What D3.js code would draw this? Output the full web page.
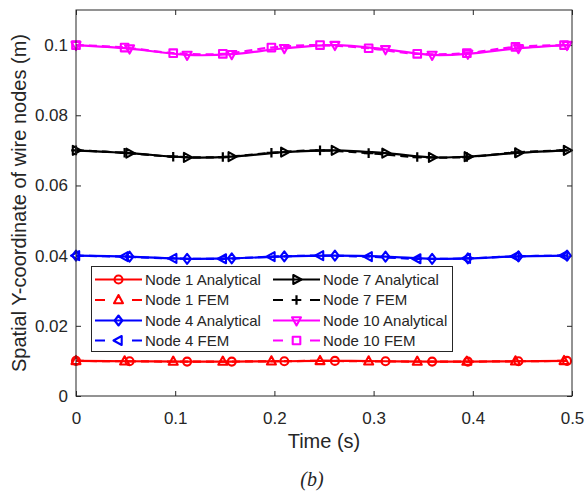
<!DOCTYPE html>
<html>
<head>
<meta charset="utf-8">
<script src="https://cdn.jsdelivr.net/npm/d3@7"></script>
<style>
  html, body { margin: 0; padding: 0; background: #fff; }
  svg { display: block; }
  text { font-family: "Liberation Sans", Arial, Helvetica, sans-serif; fill: #262626; }
</style>
</head>
<body>
<svg id="chart" width="586" height="498"></svg>
<script>
// Sample times (s) where the markers sit
const tAna = [0, 0.054, 0.112, 0.157, 0.210, 0.261, 0.312, 0.359, 0.395, 0.446, 0.495];
const tFem = [0, 0.049, 0.098, 0.148, 0.197, 0.246, 0.295, 0.344, 0.394, 0.443, 0.492];

// Spatial Y-coordinate (m) of each node
const node1Ana  = [0.0100, 0.0099, 0.0098, 0.0098, 0.0099, 0.0100, 0.0099, 0.0098, 0.0098, 0.0099, 0.0100];
const node1Fem  = [0.0100, 0.0099, 0.0098, 0.0098, 0.0099, 0.0100, 0.0099, 0.0098, 0.0098, 0.0099, 0.0100];
const node4Ana  = [0.0400, 0.0397, 0.0391, 0.0392, 0.0398, 0.0400, 0.0397, 0.0391, 0.0392, 0.0398, 0.0400];
const node4Fem  = [0.0400, 0.0397, 0.0392, 0.0391, 0.0397, 0.0400, 0.0397, 0.0391, 0.0392, 0.0398, 0.0400];
const node7Ana  = [0.0700, 0.0692, 0.0680, 0.0682, 0.0695, 0.0700, 0.0692, 0.0680, 0.0682, 0.0693, 0.0700];
const node7Fem  = [0.0700, 0.0693, 0.0682, 0.0681, 0.0693, 0.0700, 0.0692, 0.0681, 0.0681, 0.0694, 0.0700];
const node10Ana = [0.1000, 0.0990, 0.0972, 0.0974, 0.0991, 0.1000, 0.0988, 0.0972, 0.0975, 0.0991, 0.1000];
const node10Fem = [0.1000, 0.0993, 0.0977, 0.0975, 0.0993, 0.1000, 0.0991, 0.0975, 0.0977, 0.0995, 0.1000];

const xTicks = [0, 0.1, 0.2, 0.3, 0.4, 0.5];
const xTickLabels = ["0", "0.1", "0.2", "0.3", "0.4", "0.5"];
const yTicks = [0, 0.02, 0.04, 0.06, 0.08, 0.1];
const yTickLabels = ["0", "0.02", "0.04", "0.06", "0.08", "0.1"];

const seriesNames = ["Node 1 Analytical", "Node 1 FEM", "Node 4 Analytical", "Node 4 FEM",
                     "Node 7 Analytical", "Node 7 FEM", "Node 10 Analytical", "Node 10 FEM"];

// Styling per series
const series = [
  { name: seriesNames[0], t: tAna, v: node1Ana,  color: "#ff0000", dashed: false, marker: "circle" },
  { name: seriesNames[1], t: tFem, v: node1Fem,  color: "#ff0000", dashed: true,  marker: "triUp" },
  { name: seriesNames[2], t: tAna, v: node4Ana,  color: "#0000ff", dashed: false, marker: "diamond" },
  { name: seriesNames[3], t: tFem, v: node4Fem,  color: "#0000ff", dashed: true,  marker: "triLeft" },
  { name: seriesNames[4], t: tAna, v: node7Ana,  color: "#000000", dashed: false, marker: "triRight" },
  { name: seriesNames[5], t: tFem, v: node7Fem,  color: "#000000", dashed: true,  marker: "plus" },
  { name: seriesNames[6], t: tAna, v: node10Ana, color: "#ff00ff", dashed: false, marker: "triDown" },
  { name: seriesNames[7], t: tFem, v: node10Fem, color: "#ff00ff", dashed: true,  marker: "square" }
];

const svg = d3.select("#chart");
svg.append("rect").attr("width", 586).attr("height", 498).attr("fill", "#fff");

const plot = { left: 76, right: 572, top: 10, bottom: 396 };
const x = d3.scaleLinear().domain([0, 0.5]).range([plot.left, plot.right]);
const y = d3.scaleLinear().domain([0, 0.11]).range([plot.bottom, plot.top]);

const axisColor = "#262626";

// Axes with inward ticks on all four sides
function styleAxis(g) {
  g.select(".domain").remove();
  g.selectAll(".tick line").attr("stroke", axisColor).attr("stroke-width", 1);
  g.selectAll(".tick text").attr("fill", axisColor).style("font-size", "17px")
    .style("font-family", '"Liberation Sans", Arial, sans-serif');
}
svg.append("g").attr("transform", `translate(0,${plot.bottom})`)
  .call(d3.axisBottom(x).tickValues(xTicks).tickFormat((d, i) => xTickLabels[i]).tickSize(-5).tickPadding(16))
  .call(styleAxis);
svg.append("g").attr("transform", `translate(0,${plot.top})`)
  .call(d3.axisTop(x).tickValues(xTicks).tickFormat("").tickSize(-5))
  .call(styleAxis);
svg.append("g").attr("transform", `translate(${plot.left},0)`)
  .call(d3.axisLeft(y).tickValues(yTicks).tickFormat((d, i) => yTickLabels[i]).tickSize(-5).tickPadding(8))
  .call(styleAxis);
svg.append("g").attr("transform", `translate(${plot.right},0)`)
  .call(d3.axisRight(y).tickValues(yTicks).tickFormat("").tickSize(-5))
  .call(styleAxis);

// Lines
const clipId = "plot-clip";
svg.append("clipPath").attr("id", clipId).append("rect")
  .attr("x", plot.left).attr("y", plot.top)
  .attr("width", plot.right - plot.left).attr("height", plot.bottom - plot.top);

const line = d3.line().x(d => x(d[0])).y(d => y(d[1])).curve(d3.curveCatmullRom.alpha(0.5));

const lineLayer = svg.append("g").attr("clip-path", `url(#${clipId})`);
series.forEach(s => {
  const pts = s.t.map((t, i) => [t, s.v[i]]);
  lineLayer.append("path")
    .attr("d", line(pts))
    .attr("fill", "none")
    .attr("stroke", s.color)
    .attr("stroke-width", 2.2)
    .attr("stroke-dasharray", s.dashed ? "8,5" : null)
    .attr("stroke-linejoin", "round");
});

// Marker shapes
function markerPath(type) {
  switch (type) {
    case "circle":   return d3.symbol().type(d3.symbolCircle).size(50)();
    case "triUp":    return "M0,-5L4.5,3.2L-4.5,3.2Z";
    case "triDown":  return "M0,5L4.5,-3.2L-4.5,-3.2Z";
    case "triLeft":  return "M-5,0L3.2,-4.5L3.2,4.5Z";
    case "triRight": return "M5,0L-3.2,-4.5L-3.2,4.5Z";
    case "diamond":  return "M0,-5L3.8,0L0,5L-3.8,0Z";
    case "square":   return "M-3.8,-3.8H3.8V3.8H-3.8Z";
    case "plus":     return "M-4.8,0H4.8M0,-4.8V4.8";
  }
}
function drawMarker(g, type, color, cx, cy) {
  g.append("path")
    .attr("d", markerPath(type))
    .attr("transform", `translate(${cx},${cy})`)
    .attr("fill", "none")
    .attr("stroke", color)
    .attr("stroke-width", type === "plus" ? 2.2 : 2.1)
    .attr("stroke-linejoin", "round");
}

const markerLayer = svg.append("g");
series.forEach(s => {
  s.t.forEach((t, i) => drawMarker(markerLayer, s.marker, s.color, x(t), y(s.v[i])));
});

// Plot box
svg.append("rect")
  .attr("x", plot.left).attr("y", plot.top)
  .attr("width", plot.right - plot.left).attr("height", plot.bottom - plot.top)
  .attr("fill", "none").attr("stroke", axisColor).attr("stroke-width", 1);

// Legend (two columns, column-major order)
const legend = svg.append("g");
legend.append("rect")
  .attr("x", 91.5).attr("y", 266.5).attr("width", 361).attr("height", 85)
  .attr("fill", "#fff").attr("stroke", axisColor).attr("stroke-width", 1);
const colX = [95, 273];
const rowY = [279.5, 300, 320.5, 340.5];
series.forEach((s, i) => {
  const col = Math.floor(i / 4), row = i % 4;
  const x0 = colX[col], x1 = x0 + 47, yy = rowY[row];
  legend.append("line")
    .attr("x1", x0).attr("x2", x1).attr("y1", yy).attr("y2", yy)
    .attr("stroke", s.color).attr("stroke-width", 2.2)
    .attr("stroke-dasharray", s.dashed ? "10,27" : null);
  drawMarker(legend, s.marker, s.color, (x0 + x1) / 2, yy);
  legend.append("text")
    .attr("x", x1 + 3).attr("y", yy).attr("dy", "0.35em")
    .style("font-size", "15px")
    .text(s.name);
});

// Axis titles
svg.append("text")
  .attr("x", (plot.left + plot.right) / 2).attr("y", 448)
  .attr("text-anchor", "middle").style("font-size", "20px")
  .text("Time (s)");
svg.append("text")
  .attr("transform", `translate(26,${(plot.top + plot.bottom) / 2}) rotate(-90)`)
  .attr("text-anchor", "middle").style("font-size", "20px")
  .text("Spatial Y-coordinate of wire nodes (m)");

// Sub-figure caption
svg.append("text")
  .attr("x", 312).attr("y", 486)
  .attr("text-anchor", "middle")
  .style("font-family", '"Liberation Serif", "Times New Roman", serif')
  .style("font-style", "italic").style("font-size", "20px")
  .text("(b)");
</script>
</body>
</html>
